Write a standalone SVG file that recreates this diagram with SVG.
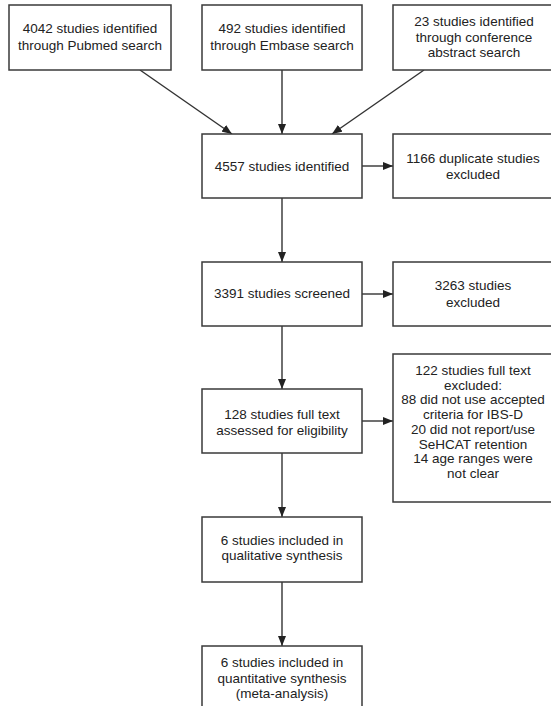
<svg xmlns="http://www.w3.org/2000/svg" width="551" height="706" viewBox="0 0 551 706">
<style>
.box{fill:#fff;stroke:#3a3a3a;stroke-width:1.5}
.t{font-family:"Liberation Sans",Arial,sans-serif;font-size:13.5px;fill:#222;text-anchor:middle}
.c{stroke:#333;stroke-width:1.4;fill:none;marker-end:url(#ah)}
</style>
<defs>
<marker id="ah" viewBox="0 0 10 8" refX="10" refY="4" markerWidth="10" markerHeight="8" markerUnits="userSpaceOnUse" orient="auto">
<path d="M0,0 L10,4 L0,8 Z" fill="#222"/>
</marker>
</defs>
<rect width="551" height="706" fill="#fff"/>
<g id="connectors">
<line class="c" x1="140" y1="70" x2="232" y2="134"/>
<line class="c" x1="282" y1="70" x2="282" y2="134"/>
<line class="c" x1="424" y1="70" x2="332" y2="134"/>
<line class="c" x1="362" y1="166" x2="393" y2="166"/>
<line class="c" x1="282" y1="198" x2="282" y2="262"/>
<line class="c" x1="362" y1="294" x2="393" y2="294"/>
<line class="c" x1="282" y1="326" x2="282" y2="389"/>
<line class="c" x1="362" y1="421" x2="393" y2="421"/>
<line class="c" x1="282" y1="453" x2="282" y2="517"/>
<line class="c" x1="282" y1="582" x2="282" y2="646"/>
</g>
<g id="pubmed">
<rect class="box" x="9" y="5" width="162" height="65"/>
<text class="t" x="90" y="33">4042 studies identified</text>
<text class="t" x="90" y="50">through Pubmed search</text>
</g>
<g id="embase">
<rect class="box" x="202" y="5" width="160" height="65"/>
<text class="t" x="282" y="33">492 studies identified</text>
<text class="t" x="282" y="50">through Embase search</text>
</g>
<g id="conference">
<rect class="box" x="393" y="5" width="162" height="65"/>
<text class="t" x="474" y="26">23 studies identified</text>
<text class="t" x="474" y="41.5">through conference</text>
<text class="t" x="474" y="57">abstract search</text>
</g>
<g id="identified">
<rect class="box" x="202" y="134" width="160" height="64"/>
<text class="t" x="282" y="171">4557 studies identified</text>
</g>
<g id="duplicates">
<rect class="box" x="393" y="134" width="162" height="64"/>
<text class="t" x="473" y="162.5">1166 duplicate studies</text>
<text class="t" x="473" y="179">excluded</text>
</g>
<g id="screened">
<rect class="box" x="202" y="262" width="160" height="64"/>
<text class="t" x="282" y="298">3391 studies screened</text>
</g>
<g id="excluded">
<rect class="box" x="393" y="262" width="162" height="64"/>
<text class="t" x="473" y="290">3263 studies</text>
<text class="t" x="473" y="306.5">excluded</text>
</g>
<g id="fulltext">
<rect class="box" x="202" y="389" width="160" height="64"/>
<text class="t" x="282" y="419">128 studies full text</text>
<text class="t" x="282" y="435">assessed for eligibility</text>
</g>
<g id="fulltext-excluded">
<rect class="box" x="393" y="354" width="162" height="148"/>
<text class="t" x="473" y="375">122 studies full text</text>
<text class="t" x="473" y="389.7">excluded:</text>
<text class="t" x="473" y="404.4">88 did not use accepted</text>
<text class="t" x="473" y="419.1">criteria for IBS-D</text>
<text class="t" x="473" y="433.8">20 did not report/use</text>
<text class="t" x="473" y="448.5">SeHCAT retention</text>
<text class="t" x="473" y="463.2">14 age ranges were</text>
<text class="t" x="473" y="477.9">not clear</text>
</g>
<g id="qualitative">
<rect class="box" x="202" y="517" width="160" height="65"/>
<text class="t" x="282" y="545">6 studies included in</text>
<text class="t" x="282" y="560">qualitative synthesis</text>
</g>
<g id="quantitative">
<rect class="box" x="202" y="646" width="160" height="70"/>
<text class="t" x="282" y="667">6 studies included in</text>
<text class="t" x="282" y="683">quantitative synthesis</text>
<text class="t" x="282" y="698">(meta-analysis)</text>
</g>
</svg>
